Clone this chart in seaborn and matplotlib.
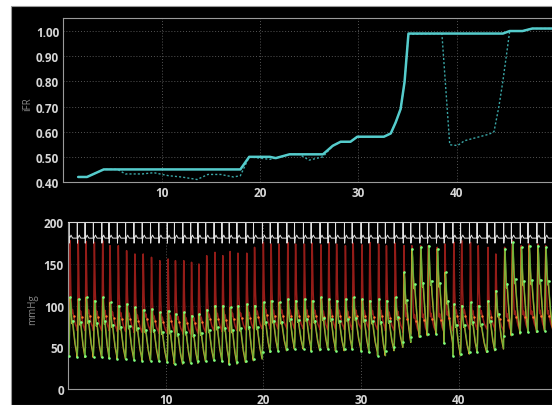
import numpy as np
import pandas as pd
import matplotlib
matplotlib.use("Agg")
import matplotlib.pyplot as plt
import seaborn as sns
from matplotlib.patches import Rectangle
from matplotlib.ticker import MultipleLocator, FormatStrFormatter

# --- iFR pullback (upper panel) ---
ifr_time = [1.5, 2.4, 4.1, 18.0, 18.9, 21.0, 21.6, 23.0, 26.4, 27.4, 28.2, 29.2,
            29.9, 32.6, 33.3, 33.8, 34.3, 34.7, 35.1, 44.7, 45.4, 46.7, 47.7, 49.7]
ifr_value = [0.42, 0.42, 0.45, 0.45, 0.50, 0.50, 0.495, 0.51, 0.51, 0.544, 0.56, 0.56,
             0.58, 0.58, 0.593, 0.637, 0.69, 0.797, 0.99, 0.99, 1.00, 1.00, 1.01, 1.01]

ifr2_time = [1.5, 2.4, 4.1, 5.5, 6.3, 8.0, 9.2, 10.7, 12.0, 13.6, 14.7, 16.0, 17.3,
             18.0, 18.9, 21.0, 21.6, 23.0, 24.0, 25.0, 26.4, 27.4, 28.2, 29.2, 29.9,
             32.6, 33.3, 33.8, 34.3, 34.7, 35.1, 38.5, 39.3, 40.1, 40.8, 43.3, 43.8,
             44.3, 44.7, 45.4, 46.7, 47.7, 49.7]
ifr2_value = [0.42, 0.42, 0.45, 0.45, 0.432, 0.432, 0.437, 0.425, 0.42, 0.41, 0.43, 0.43,
              0.42, 0.425, 0.50, 0.49, 0.495, 0.51, 0.51, 0.487, 0.50, 0.544, 0.56, 0.56,
              0.58, 0.58, 0.593, 0.637, 0.69, 0.797, 0.987, 0.99, 0.548, 0.545, 0.564,
              0.59, 0.60, 0.70, 0.80, 1.00, 1.00, 1.01, 1.01]

# --- beat-by-beat pressures (lower panel), times = aortic peak times in s ---
beat_time = [0.2, 1.05, 1.85, 2.7, 3.55, 4.3, 5.15, 6.0, 6.85, 7.7, 8.55, 9.4, 10.25,
             11.0, 11.85, 12.65, 13.4, 14.2, 15.05, 15.85, 16.6, 17.4, 18.3, 19.1, 20.0,
             20.8, 21.6, 22.5, 23.3, 24.2, 25.0, 25.9, 26.7, 27.5, 28.4, 29.2, 30.1,
             30.9, 31.8, 32.6, 33.5, 34.4, 35.2, 36.1, 36.9, 37.8, 38.6, 39.5, 40.3,
             41.2, 42.0, 43.0, 43.8, 44.7, 45.5, 46.4, 47.2, 48.1, 48.9, 49.75]
pa_sys = [178, 178, 177, 176, 178, 172, 172, 166, 162, 162, 158, 154, 156, 154, 154,
          152, 150, 160, 164, 160, 165, 163, 163, 170, 176,
          174, 174, 176, 174,
          174, 175, 173, 176, 174, 172, 175, 173, 176, 174, 172, 175, 172,
          172, 172, 172, 170, 174, 176, 178, 176, 172, 170, 162, 170, 178, 172,
          174, 174, 172, 170]
pa_dia = [72, 70, 72, 70, 71, 70, 69, 70, 68, 70, 68, 67, 69, 68, 66, 67, 68, 70, 70,
          69, 70, 71, 72, 72, 73, 72, 73, 72, 72, 73, 72, 71, 72, 72, 71, 72, 72, 71,
          72, 70, 70, 68, 66, 67, 68, 68, 70, 72, 72, 71, 72, 72, 70, 68, 70, 71, 71,
          72, 72, 72]
pd_sys = [110, 108, 110, 106, 110, 104, 100, 102,
          98, 95, 96, 92, 94, 90, 92, 88, 90, 95, 100, 100, 98, 100, 102, 100,
          104, 106, 104, 108, 106, 108, 106, 110, 108, 106, 108, 110, 108, 106, 108,
          106, 110, 140,
          168, 170, 172, 168, 140, 102, 100, 104, 100, 106, 118,
          168, 176, 170, 172, 172, 170, 168]
pd_dia = [40, 38, 40, 38, 38, 37, 36, 36,
          35, 34, 34, 33, 32, 30, 32, 31, 33, 34, 35, 33, 30, 32, 34, 36,
          44, 46, 46, 48, 48, 48, 46, 48, 48, 46, 48, 48, 46, 44, 40, 46, 50,
          56, 62, 64, 66, 66, 55, 40, 42, 44, 44, 46, 48,
          64, 66, 68, 68, 70, 70, 70]

# normalised single-beat shapes (phase within the beat, 0 = end diastole)
pa_phase = [0, 0.04, 0.08, 0.12, 0.16, 0.22, 0.30, 0.36, 0.42, 0.55, 0.75, 1.0]
pa_shape = [0, 0.15, 0.6, 1.0, 0.8, 0.45, 0.25, 0.18, 0.22, 0.15, 0.06, 0]
pd_phase = [0, 0.05, 0.10, 0.16, 0.22, 0.30, 0.38, 0.45, 0.55, 0.75, 1.0]
pd_shape = [0, 0.2, 0.65, 1.0, 0.9, 0.7, 0.55, 0.6, 0.45, 0.2, 0]
ecg_phase = [0, 0.08, 0.10, 0.12, 0.15, 0.18, 0.25, 0.35, 0.45, 0.55, 1.0]
ecg_shape = [0, 0, 1.0, -0.3, 0, 0, 0.08, 0.18, 0.08, 0, 0]


def build_wave(times, top, low, phase, shape, shift):
    """Stack one scaled beat shape per beat into a continuous trace."""
    times = np.asarray(times, dtype=float)
    periods = np.diff(times, append=times[-1] + (times[-1] - times[-2]))
    xs, ys = [], []
    for t, per, hi, lo in zip(times, periods, top, low):
        for p, v in zip(phase, shape):
            xs.append(t + (p + shift) * per)
            ys.append(lo + (hi - lo) * v)
    return pd.DataFrame({"t": xs, "p": ys})


def beat_points(times, top, low, phase, shape, shift, at):
    times = np.asarray(times, dtype=float)
    periods = np.diff(times, append=times[-1] + (times[-1] - times[-2]))
    v = np.interp(at, phase, shape)
    return pd.DataFrame({"t": times + (at + shift) * periods,
                         "p": np.asarray(low) + (np.asarray(top) - np.asarray(low)) * v})


sns.set_theme(style="dark", rc={"axes.facecolor": "black", "figure.facecolor": "white"})
plt.rcParams["font.family"] = ["Open Sans", "DejaVu Sans"]

fig = plt.figure(figsize=(5.52, 4.06), dpi=100)
W, H = 552.0, 406.0
fig.patches.append(Rectangle((11 / W, 0), 1, (H - 7) / H, transform=fig.transFigure,
                             facecolor="black", edgecolor="#9a9a9a", linewidth=0.8,
                             zorder=-10))

tick_col = "#d6d6d6"
spine_col = "#9a9a9a"
grid_col = "#555555"


def style_axes(ax):
    ax.set_facecolor("black")
    for side in ["left", "bottom", "top"]:
        ax.spines[side].set_visible(True)
        ax.spines[side].set_color(spine_col)
        ax.spines[side].set_linewidth(0.8)
    ax.spines["right"].set_visible(False)
    ax.tick_params(which="major", length=0, labelcolor=tick_col, labelsize=8.5, pad=3)
    ax.tick_params(which="minor", direction="in", length=2, color=spine_col, width=0.8)
    for lab in ax.get_xticklabels() + ax.get_yticklabels():
        lab.set_fontweight("bold")
    ax.grid(True, which="major", color=grid_col, linestyle=(0, (1, 2)), linewidth=0.7)
    ax.set_xlabel("")


# ---------- upper panel: iFR ----------
ax1 = fig.add_axes([63.4 / W, 1 - 183 / H, (W - 63.4) / W, (183 - 18.7) / H])
sns.lineplot(x=ifr2_time, y=ifr2_value, ax=ax1, color="#3aa7a7", linewidth=1.0,
             linestyle=(0, (1.5, 1.5)), estimator=None, sort=False)
sns.lineplot(x=ifr_time, y=ifr_value, ax=ax1, color="#55cccc", linewidth=1.8,
             estimator=None, sort=False)
ax1.set_xlim(0, 49.7)
ax1.set_ylim(0.40, 1.053)
ax1.yaxis.set_major_locator(MultipleLocator(0.1))
ax1.yaxis.set_minor_locator(MultipleLocator(0.05))
ax1.yaxis.set_major_formatter(FormatStrFormatter("%.2f"))
ax1.set_xticks([10, 20, 30, 40])
ax1.xaxis.set_minor_locator(MultipleLocator(5))
style_axes(ax1)
ax1.set_ylabel("iFR", color="#8a8a8a", fontsize=7)
ax1.yaxis.set_label_coords(-0.062, 0.48)

# ---------- lower panel: pressures ----------
ax2 = fig.add_axes([68 / W, 1 - 390 / H, (W - 68) / W, (390 - 223.3) / H])
pa_wave = build_wave(beat_time, pa_sys, pa_dia, pa_phase, pa_shape, -0.12)
pd_wave = build_wave(beat_time, pd_sys, pd_dia, pd_phase, pd_shape, -0.14)
pd_wave2 = build_wave(beat_time, pd_sys, pd_dia, pd_phase, pd_shape, -0.10)
ecg_wave = build_wave(beat_time, [201] * len(beat_time), [181] * len(beat_time),
                      ecg_phase, ecg_shape, -0.22)

sns.lineplot(data=pa_wave, x="t", y="p", ax=ax2, color="#941c18", linewidth=1.1,
             estimator=None, sort=False)
sns.lineplot(data=pd_wave, x="t", y="p", ax=ax2, color="#e0a22c", linewidth=1.0,
             estimator=None, sort=False)
sns.lineplot(data=pd_wave2, x="t", y="p", ax=ax2, color="#3fb83f", linewidth=0.8,
             alpha=0.7, estimator=None, sort=False)
sns.lineplot(data=ecg_wave, x="t", y="p", ax=ax2, color="#e2e2e2", linewidth=0.7,
             estimator=None, sort=False)

orange_pts = beat_points(beat_time, pa_sys, pa_dia, pa_phase, pa_shape, -0.12, 0.55)
green_pts = pd.concat([
    beat_points(beat_time, pd_sys, pd_dia, pd_phase, pd_shape, -0.10, a)
    for a in (0.0, 0.16, 0.45)
])
sns.scatterplot(data=orange_pts, x="t", y="p", ax=ax2, color="#ff7a30", s=3,
                linewidth=0, zorder=5)
sns.scatterplot(data=green_pts, x="t", y="p", ax=ax2, color="#7dff7d", s=3.5,
                linewidth=0, zorder=5)

ax2.set_xlim(0, 49.55)
ax2.set_ylim(0, 200)
ax2.set_yticks([0, 50, 100, 150, 200])
ax2.yaxis.set_minor_locator(MultipleLocator(25))
ax2.set_xticks([10, 20, 30, 40])
ax2.xaxis.set_minor_locator(MultipleLocator(5))
style_axes(ax2)
ax2.grid(True, axis="y", color="#2a2a2a", linestyle=(0, (1, 2)), linewidth=0.6)
ax2.spines["top"].set_color("#d8d8d8")
ax2.set_ylabel("mmHg", color="#8a8a8a", fontsize=7)
ax2.yaxis.set_label_coords(-0.062, 0.48)

fig.savefig("out.png", dpi=100, facecolor="white")
